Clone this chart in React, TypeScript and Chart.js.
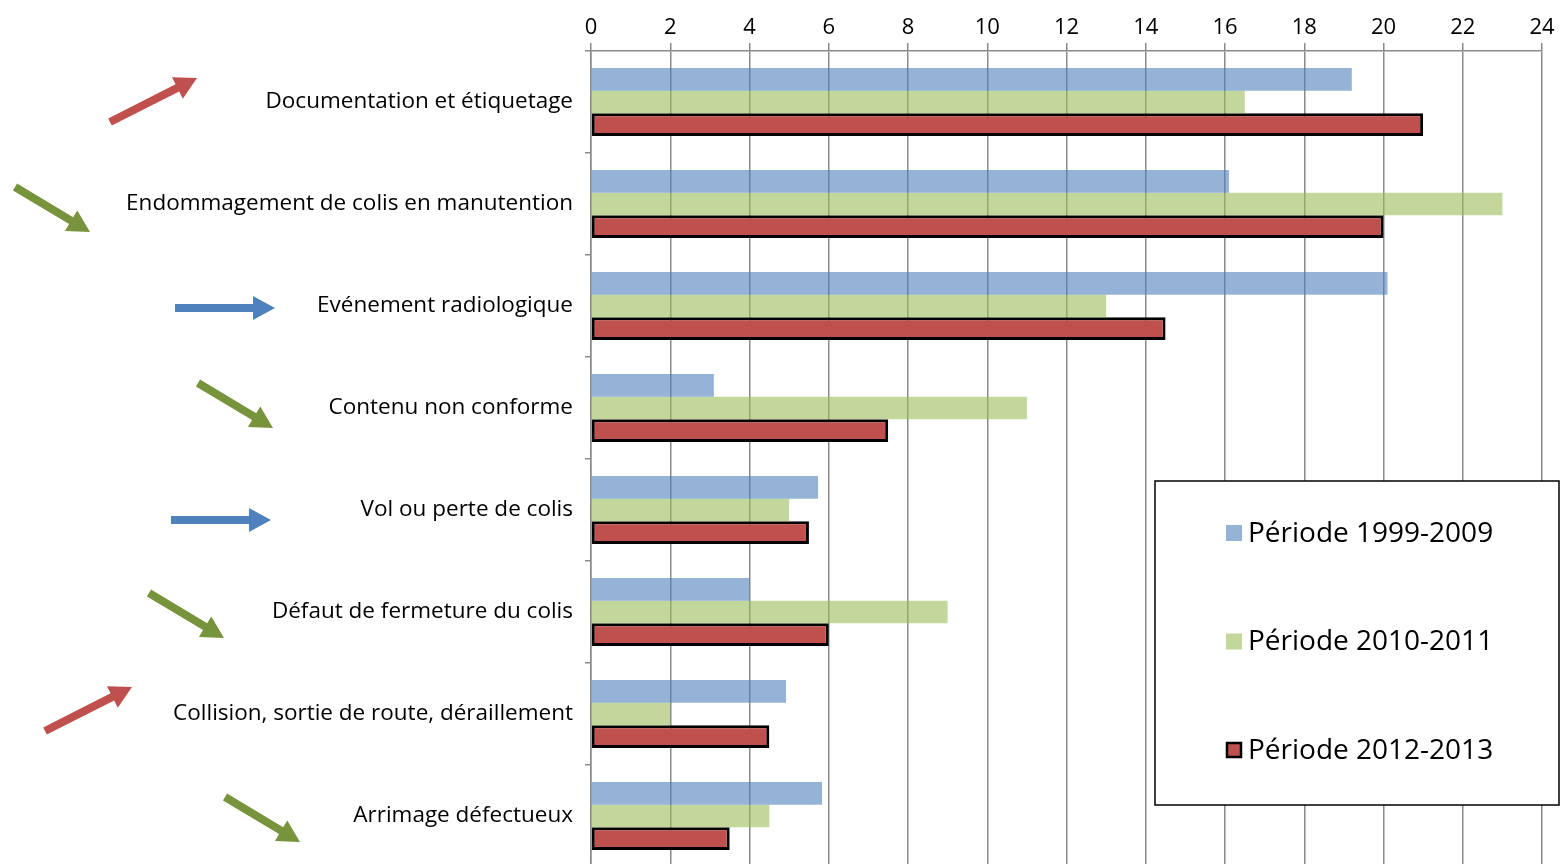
import React, { useEffect, useRef } from "react";
import { Chart, registerables } from "chart.js";

Chart.register(...registerables);

// Event categories, top to bottom
const categories = [
  "Documentation et étiquetage",
  "Endommagement de colis en manutention",
  "Evénement radiologique",
  "Contenu non conforme",
  "Vol ou perte de colis",
  "Défaut de fermeture du colis",
  "Collision, sortie de route, déraillement",
  "Arrimage défectueux",
];

// Share of events per period (%)
const period1999to2009 = [19.2, 16.1, 20.1, 3.1, 5.73, 4.0, 4.92, 5.83];
const period2010to2011 = [16.5, 23.0, 13.0, 11.0, 5.0, 9.0, 2.0, 4.5];
const period2012to2013 = [21.0, 20.0, 14.5, 7.5, 5.5, 6.0, 4.5, 3.5];

const seriesLabels = ["Période 1999-2009", "Période 2010-2011", "Période 2012-2013"];

// Value axis
const axisMin = 0;
const axisMax = 24;
const axisStep = 2;

// Trend arrow for each category
const trends = ["up", "down", "flat", "down", "flat", "down", "up", "down"];

// Arrow placement: tail x and tail y offset from the row centre
const arrowTailX = [110, 15, 175, 198, 171, 149, 45, 225];
const arrowTailDY = [20, -17, 2, -25, 10, -19, 17, -19];

const FONT = "'Open Sans', 'DejaVu Sans', sans-serif";
const GRID = "#8a8a8a";

const arrowStyle: Record<string, { dx: number; dy: number; color: string }> = {
  up: { dx: 87, dy: -44, color: "#C0504D" },
  down: { dx: 75, dy: 45, color: "#77933C" },
  flat: { dx: 100, dy: 0, color: "#4F81BD" },
};

function drawArrow(ctx: CanvasRenderingContext2D, x0: number, y0: number, dx: number, dy: number, color: string) {
  const len = Math.hypot(dx, dy);
  const ang = Math.atan2(dy, dx);
  const headLen = 22;
  const headHalf = 12;
  const shaftHalf = 4;
  ctx.save();
  ctx.translate(x0, y0);
  ctx.rotate(ang);
  ctx.fillStyle = color;
  ctx.beginPath();
  ctx.moveTo(0, -shaftHalf);
  ctx.lineTo(len - headLen, -shaftHalf);
  ctx.lineTo(len - headLen, -headHalf);
  ctx.lineTo(len, 0);
  ctx.lineTo(len - headLen, headHalf);
  ctx.lineTo(len - headLen, shaftHalf);
  ctx.lineTo(0, shaftHalf);
  ctx.closePath();
  ctx.fill();
  ctx.restore();
}

const trendArrows = {
  id: "trendArrows",
  afterDraw(chart: any) {
    const ctx = chart.ctx as CanvasRenderingContext2D;
    const yScale = chart.scales.y;
    trends.forEach((t, i) => {
      const s = arrowStyle[t];
      const cy = yScale.getPixelForValue(i);
      drawArrow(ctx, arrowTailX[i], cy + arrowTailDY[i], s.dx, s.dy, s.color);
    });
  },
};

const boxLegend = {
  id: "boxLegend",
  afterDraw(chart: any) {
    const ctx = chart.ctx as CanvasRenderingContext2D;
    const bx = 1155;
    const by = 481;
    const bw = 404;
    const bh = 324;
    ctx.save();
    ctx.fillStyle = "#ffffff";
    ctx.fillRect(bx, by, bw, bh);
    ctx.strokeStyle = "#000000";
    ctx.lineWidth = 1.5;
    ctx.strokeRect(bx, by, bw, bh);
    ctx.font = `28px ${FONT}`;
    ctx.textBaseline = "middle";
    ctx.textAlign = "left";
    chart.data.datasets.forEach((ds: any, i: number) => {
      const cy = 533 + i * 108.5;
      const sq = 16;
      ctx.fillStyle = ds.legendColor;
      ctx.fillRect(1226, cy - sq / 2, sq, sq);
      if (ds.borderWidth > 0) {
        ctx.strokeStyle = ds.borderColor;
        ctx.lineWidth = 2.5;
        ctx.strokeRect(1226 + 1, cy - sq / 2 + 1, sq - 2, sq - 2);
      }
      ctx.fillStyle = "#000000";
      ctx.fillText(ds.label, 1248, cy + 1);
    });
    ctx.restore();
  },
};

export default function App() {
  const canvasRef = useRef<HTMLCanvasElement | null>(null);

  useEffect(() => {
    const canvas = canvasRef.current;
    if (!canvas) return;
    const chart = new Chart(canvas, {
      type: "bar",
      data: {
        labels: categories,
        datasets: [
          {
            label: seriesLabels[0],
            data: period1999to2009,
            backgroundColor: "rgba(79,129,189,0.6)",
            legendColor: "#95B3D7",
            borderWidth: 0,
          } as any,
          {
            label: seriesLabels[1],
            data: period2010to2011,
            backgroundColor: "rgba(155,187,89,0.6)",
            legendColor: "#C3D69B",
            borderWidth: 0,
          } as any,
          {
            label: seriesLabels[2],
            data: period2012to2013,
            backgroundColor: "#C0504D",
            legendColor: "#C0504D",
            borderColor: "#000000",
            borderWidth: 3,
            borderSkipped: false,
          } as any,
        ],
      },
      options: {
        indexAxis: "y",
        responsive: false,
        animation: false,
        layout: { padding: { left: 0, right: 18, top: 0, bottom: 0 } },
        datasets: {
          bar: { categoryPercentage: 0.667, barPercentage: 1.0 },
        },
        plugins: {
          legend: { display: false },
          tooltip: { enabled: false },
        },
        scales: {
          x: {
            position: "top",
            min: axisMin,
            max: axisMax,
            ticks: {
              stepSize: axisStep,
              color: "#000000",
              font: { family: FONT, size: 22 },
              padding: 2,
            },
            grid: { color: GRID, lineWidth: 1.5, tickLength: 8 },
            border: { color: GRID, width: 1.5 },
            afterFit(scale: any) {
              scale.height = 51;
              scale.paddingLeft = 0;
            },
          },
          y: {
            ticks: {
              color: "#000000",
              font: { family: FONT, size: 22.5 },
              padding: 12,
            },
            grid: {
              drawOnChartArea: false,
              drawTicks: true,
              tickLength: 6,
              color: GRID,
              lineWidth: 1.5,
              offset: true,
            },
            border: { color: GRID, width: 1.5 },
            afterFit(scale: any) {
              scale.width = 591;
              scale.paddingTop = 0;
              scale.paddingBottom = 0;
            },
          },
        },
      } as any,
      plugins: [trendArrows, boxLegend],
    });
    return () => chart.destroy();
  }, []);

  return (
    <div
      style={{
        position: "fixed",
        left: 0,
        top: 0,
        width: 1560,
        height: 864,
        overflow: "hidden",
        background: "#ffffff",
      }}
    >
      <canvas ref={canvasRef} width={1560} height={867} style={{ display: "block" }} />
    </div>
  );
}
